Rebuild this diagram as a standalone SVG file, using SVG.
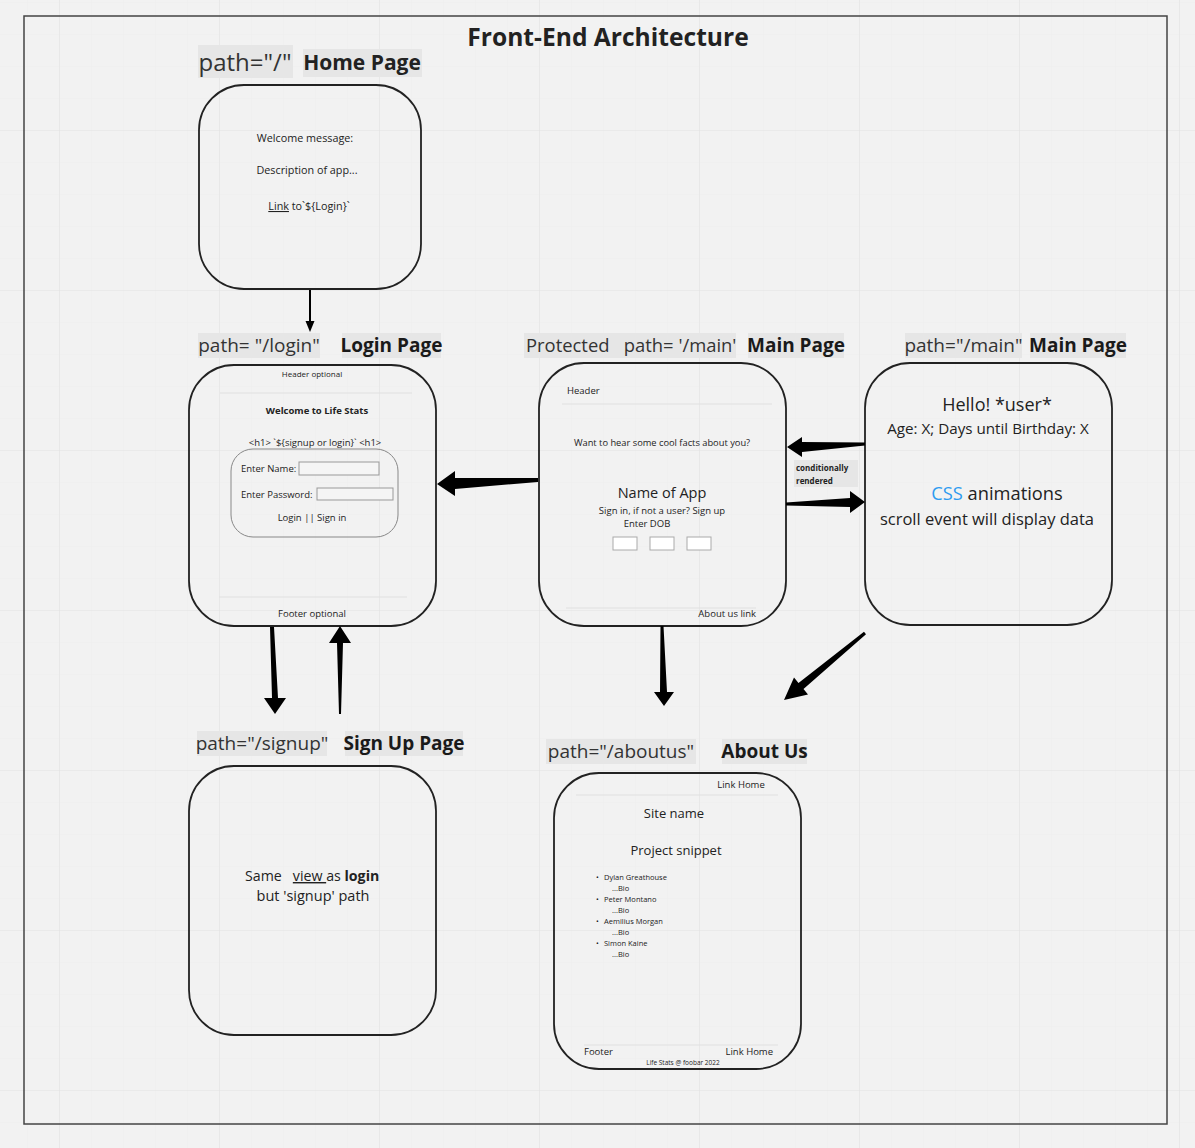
<svg xmlns="http://www.w3.org/2000/svg" width="1195" height="1148" viewBox="0 0 1195 1148">
<defs>
<pattern id="minor" x="27" y="2" width="32" height="32" patternUnits="userSpaceOnUse">
<path d="M0 0H32M0 0V32" fill="none" stroke="#ededed" stroke-width="1"/>
</pattern>
<pattern id="major" x="59" y="130" width="160" height="160" patternUnits="userSpaceOnUse">
<path d="M0 0H160M0 0V160" fill="none" stroke="#e3e3e3" stroke-width="1.2"/>
</pattern>
</defs>
<style>
text{font-family:"Open Sans","Noto Sans","DejaVu Sans",sans-serif;fill:#222}
.pre{white-space:pre}
.lbl{fill:#e6e6e6}
.lt{font-size:19px;fill:#333}
.lb{font-size:19px;font-weight:bold;fill:#1a1a1a}
.node{fill:none;stroke:#222;stroke-width:1.8}
.sep{stroke:#e0e0e0;stroke-width:1}
.s{font-size:9.5px}
.h{font-size:10.8px}
.xs{font-size:8px}
.inp{fill:#f5f5f5;stroke:#999;stroke-width:1}
.dob{fill:#fff;stroke:#aaa;stroke-width:1}
.arr{fill:#000}
</style>
<rect width="1195" height="1148" fill="#f2f2f2"/>
<rect width="1195" height="1148" fill="url(#minor)"/>
<rect width="1195" height="1148" fill="url(#major)"/>
<rect x="24" y="16" width="1143" height="1108" fill="none" stroke="#444" stroke-width="1.5"/>
<text x="608" y="46" text-anchor="middle" font-size="24.6" font-weight="bold">Front-End Architecture</text>

<g id="home">
<rect class="lbl" x="198" y="45" width="95" height="33"/>
<text x="245" y="71" text-anchor="middle" font-size="24" style="fill:#333">path="/"</text>
<rect class="lbl" x="303" y="49" width="119" height="28"/>
<text x="362" y="70" text-anchor="middle" font-size="21" font-weight="bold">Home Page</text>
<rect class="node" x="199" y="85" width="222" height="204" rx="45"/>
<text class="h" x="305" y="142" text-anchor="middle">Welcome message:</text>
<text class="h" x="307" y="174" text-anchor="middle">Description of app...</text>
<text class="h" x="309" y="210" text-anchor="middle"><tspan text-decoration="underline">Link</tspan> to`${Login}`</text>
</g>

<g id="login">
<rect class="lbl" x="198" y="333" width="122" height="25"/>
<text class="lt" x="259" y="352" text-anchor="middle">path= "/login"</text>
<rect class="lbl" x="342" y="333" width="99" height="25"/>
<text class="lb" x="391.5" y="352" text-anchor="middle">Login Page</text>
<rect class="node" x="189" y="365" width="247" height="261" rx="45"/>
<text class="xs" x="312" y="377" text-anchor="middle">Header optional</text>
<line class="sep" x1="220" y1="393" x2="412" y2="393"/>
<text class="s" x="317" y="414" text-anchor="middle" font-weight="bold">Welcome to Life Stats</text>
<text class="s" x="315" y="446" text-anchor="middle">&lt;h1&gt; `${signup or login}` &lt;h1&gt;</text>
<rect x="231" y="449" width="167" height="88" rx="22" fill="none" stroke="#888" stroke-width="1"/>
<text class="s" x="241" y="472">Enter Name:</text>
<rect class="inp" x="299" y="462" width="80" height="13"/>
<text class="s" x="241" y="498">Enter Password:</text>
<rect class="inp" x="317" y="488" width="76" height="12"/>
<text class="s" x="312" y="521" text-anchor="middle">Login || Sign in</text>
<line class="sep" x1="219" y1="597" x2="407" y2="597"/>
<text class="s" x="312" y="617" text-anchor="middle">Footer optional</text>
</g>

<g id="protected-main">
<rect class="lbl" x="524" y="333" width="212" height="25"/>
<text class="lt pre" x="526" y="352" style="font-size:18.4px">Protected   path= '/main'</text>
<rect class="lbl" x="748" y="333" width="96" height="25"/>
<text class="lb" x="796" y="352" text-anchor="middle">Main Page</text>
<rect class="node" x="539" y="363" width="247" height="263" rx="45"/>
<text class="s" x="567" y="394">Header</text>
<line class="sep" x1="562" y1="404" x2="772" y2="404"/>
<text x="662" y="446" text-anchor="middle" font-size="9.3">Want to hear some cool facts about you?</text>
<text x="662" y="498" text-anchor="middle" font-size="14.5">Name of App</text>
<text class="s" x="662" y="514" text-anchor="middle">Sign in, if not a user? Sign up</text>
<text class="s" x="647" y="527" text-anchor="middle">Enter DOB</text>
<rect class="dob" x="613" y="537" width="24" height="13"/>
<rect class="dob" x="650" y="537" width="24" height="13"/>
<rect class="dob" x="687" y="537" width="24" height="13"/>
<line class="sep" x1="566" y1="608" x2="756" y2="608"/>
<text class="s" x="756" y="617" text-anchor="end">About us link</text>
</g>

<g id="main">
<rect class="lbl" x="905" y="333" width="117" height="25"/>
<text class="lt" x="963.5" y="352" text-anchor="middle">path="/main"</text>
<rect class="lbl" x="1030" y="333" width="96" height="25"/>
<text class="lb" x="1078" y="352" text-anchor="middle">Main Page</text>
<rect class="node" x="865" y="363" width="247" height="262" rx="45"/>
<text x="997" y="411" text-anchor="middle" font-size="18">Hello! *user*</text>
<text x="988" y="434" text-anchor="middle" font-size="15.2">Age: X; Days until Birthday: X</text>
<text x="997" y="500" text-anchor="middle" font-size="18.3"><tspan fill="#2d9bf0">CSS</tspan> animations</text>
<text x="987" y="525" text-anchor="middle" font-size="16.5">scroll event will display data</text>
</g>

<g id="cond-label">
<rect class="lbl" x="794" y="460" width="64" height="27"/>
<text x="796" y="471" font-size="8" font-weight="bold">conditionally</text>
<text x="796" y="484" font-size="8" font-weight="bold">rendered</text>
</g>

<g id="signup">
<rect class="lbl" x="197" y="731" width="130" height="25"/>
<text class="lt" x="262" y="750" text-anchor="middle">path="/signup"</text>
<rect class="lbl" x="345" y="731" width="118" height="25"/>
<text class="lb" x="404" y="750" text-anchor="middle">Sign Up Page</text>
<rect class="node" x="189" y="766" width="247" height="269" rx="45"/>
<text class="pre" x="245" y="881" font-size="14.2">Same   <tspan text-decoration="underline">view </tspan>as <tspan font-weight="bold">login</tspan></text>
<text x="313" y="901" text-anchor="middle" font-size="14.5">but 'signup' path</text>
</g>

<g id="aboutus">
<rect class="lbl" x="546" y="739" width="150" height="25"/>
<text class="lt" x="621" y="758" text-anchor="middle">path="/aboutus"</text>
<rect class="lbl" x="722" y="739" width="85" height="25"/>
<text class="lb" x="764.5" y="758" text-anchor="middle">About Us</text>
<rect class="node" x="554" y="773" width="247" height="296" rx="45"/>
<text class="s" x="741" y="788" text-anchor="middle">Link Home</text>
<line class="sep" x1="576" y1="795" x2="778" y2="795"/>
<text x="674" y="818" text-anchor="middle" font-size="13">Site name</text>
<text x="676" y="855" text-anchor="middle" font-size="13">Project snippet</text>
<g font-size="7.5">
<text x="596" y="880" font-size="7.5">•</text><text x="604" y="880" font-size="7.5">Dylan Greathouse</text>
<text x="612" y="891" font-size="7.5">...Bio</text>
<text x="596" y="902" font-size="7.5">•</text><text x="604" y="902" font-size="7.5">Peter Montano</text>
<text x="612" y="913" font-size="7.5">...Bio</text>
<text x="596" y="924" font-size="7.5">•</text><text x="604" y="924" font-size="7.5">Aemilius Morgan</text>
<text x="612" y="935" font-size="7.5">...Bio</text>
<text x="596" y="946" font-size="7.5">•</text><text x="604" y="946" font-size="7.5">Simon Kaine</text>
<text x="612" y="957" font-size="7.5">...Bio</text>
</g>
<line class="sep" x1="584" y1="1045" x2="778" y2="1045"/>
<text class="s" x="584" y="1055">Footer</text>
<text class="s" x="773" y="1055" text-anchor="end">Link Home</text>
<text x="683" y="1065" text-anchor="middle" font-size="6.5">Life Stats @ foobar 2022</text>
</g>

<g id="connectors">
<line x1="310" y1="290" x2="310" y2="323" stroke="#000" stroke-width="2"/>
<polygon class="arr" points="305.5,321 314.5,321 310,332"/>
<polygon class="arr" points="270,627 274,627 278,698 286,698 275,714 264,698 272,698"/>
<polygon class="arr" points="339,714 341,714 343,643 351,643 340,626 329,643 337,643"/>
<polygon class="arr" points="538,478 538,482 455,489 455,496 437,484 455,471 455,478"/>
<polygon class="arr" points="865,442.5 865,445.5 802,452 802,457 787,447 802,437 802,442"/>
<polygon class="arr" points="786,502.5 786,505.5 850,507 850,513 865,502 850,491 850,498"/>
<polygon class="arr" points="660.5,626 663.5,626 667,692 674,692 664,706 654,692 660,692"/>
<polygon class="arr" points="864,631.8 866,634.2 803.5,689.1 808,694.5 784,700 794,677.5 798.5,682.9"/>
</g>
</svg>
